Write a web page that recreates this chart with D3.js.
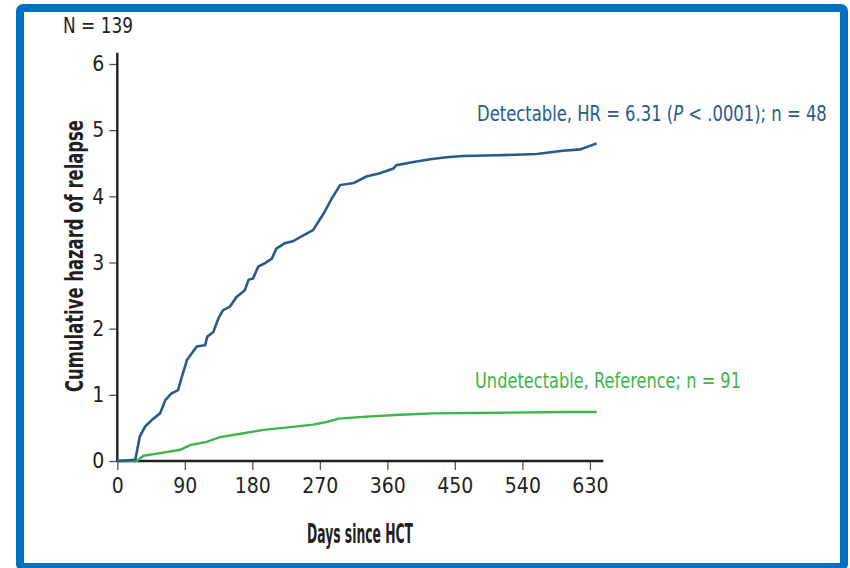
<!DOCTYPE html>
<html>
<head>
<meta charset="utf-8">
<script src="https://cdn.jsdelivr.net/npm/d3@7"></script>
<style>
  body { margin: 0; background: #fff; }
  text { font-family: "DejaVu Sans Condensed", "DejaVu Sans", sans-serif; font-stretch: condensed; }
</style>
</head>
<body>
<script>
const W = 850, H = 568;

// days since HCT / cumulative hazard
const detectDays = [0, 24, 30, 37, 48, 57, 64, 72, 81, 86, 93, 106, 117, 120, 128, 135, 141, 150, 159, 170, 175, 181, 188, 197, 206, 212, 223, 234, 248, 261, 275, 286, 297, 315, 332, 350, 368, 372, 395, 417, 439, 461, 506, 559, 594, 617, 639];
const detectHaz = [0, 0.02, 0.37, 0.52, 0.64, 0.72, 0.92, 1.02, 1.07, 1.27, 1.53, 1.73, 1.75, 1.88, 1.95, 2.16, 2.28, 2.33, 2.48, 2.58, 2.74, 2.76, 2.94, 2.99, 3.06, 3.21, 3.29, 3.32, 3.41, 3.49, 3.74, 3.97, 4.17, 4.20, 4.30, 4.35, 4.42, 4.47, 4.52, 4.56, 4.59, 4.61, 4.62, 4.64, 4.69, 4.71, 4.80];

const undetDays = [0, 26, 35, 57, 84, 97, 119, 137, 168, 195, 221, 261, 279, 295, 332, 377, 421, 510, 599, 639];
const undetHaz = [0, 0, 0.08, 0.12, 0.17, 0.24, 0.29, 0.36, 0.42, 0.47, 0.50, 0.55, 0.59, 0.64, 0.67, 0.70, 0.72, 0.73, 0.74, 0.74];

const xTicks = [0, 90, 180, 270, 360, 450, 540, 630];
const yTicks = [0, 1, 2, 3, 4, 5, 6];

const svg = d3.select('body').append('svg')
    .attr('width', W)
    .attr('height', H);

// blue frame
svg.append('rect')
    .attr('x', 20).attr('y', 8)
    .attr('width', 824).attr('height', 559)
    .attr('rx', 3)
    .attr('fill', 'none')
    .attr('stroke', '#0070c0')
    .attr('stroke-width', 8);

const x = d3.scaleLinear().domain([0, 648]).range([117.3, 603.4]);
const y = d3.scaleLinear().domain([0, 6]).range([461, 64]);

const axisColor = '#231f20';

// x axis
const gx = svg.append('g')
    .attr('transform', `translate(0,${y(0)})`)
    .call(d3.axisBottom(x).tickValues(xTicks).tickSize(9).tickPadding(8));
gx.select('.domain').remove();
gx.selectAll('.tick line').attr('stroke', '#555').attr('stroke-width', 1.3);
gx.selectAll('.tick text')
    .attr('fill', axisColor)
    .style('font-size', '21px');
svg.append('line')
    .attr('x1', x(0)).attr('x2', x(648))
    .attr('y1', y(0)).attr('y2', y(0))
    .attr('stroke', axisColor).attr('stroke-width', 2.6);

// y axis
const gy = svg.append('g')
    .attr('transform', `translate(${x(0)},0)`)
    .call(d3.axisLeft(y).tickValues(yTicks).tickFormat(d3.format('d')).tickSize(8).tickPadding(5));
gy.select('.domain').remove();
gy.selectAll('.tick line').attr('stroke', '#555').attr('stroke-width', 1.3);
gy.selectAll('.tick text')
    .attr('fill', axisColor)
    .style('font-size', '21px');
svg.append('line')
    .attr('x1', x(0)).attr('x2', x(0))
    .attr('y1', y(0) + 1).attr('y2', y(6.17))
    .attr('stroke', axisColor).attr('stroke-width', 2.4);

// axis titles
svg.append('text')
    .attr('x', 360).attr('y', 543)
    .attr('text-anchor', 'middle')
    .attr('fill', axisColor)
    .attr('textLength', 106)
    .attr('lengthAdjust', 'spacingAndGlyphs')
    .style('font-size', '26px')
    .style('font-weight', 'bold')
    .text('Days since HCT');

svg.append('text')
    .attr('transform', 'translate(83,256) rotate(-90)')
    .attr('text-anchor', 'middle')
    .attr('fill', axisColor)
    .attr('textLength', 272)
    .attr('lengthAdjust', 'spacingAndGlyphs')
    .style('font-size', '24px')
    .style('font-weight', 'bold')
    .text('Cumulative hazard of relapse');

svg.append('text')
    .attr('x', 63).attr('y', 33)
    .attr('fill', axisColor)
    .attr('textLength', 70)
    .attr('lengthAdjust', 'spacingAndGlyphs')
    .style('font-size', '21px')
    .text('N = 139');

// curves
const line = d3.line().x(d => x(d[0])).y(d => y(d[1]));

svg.append('path')
    .datum(undetDays.map((d, i) => [d, undetHaz[i]]))
    .attr('d', line)
    .attr('fill', 'none')
    .attr('stroke', '#3db54a')
    .attr('stroke-width', 2.4);

svg.append('path')
    .datum(detectDays.map((d, i) => [d, detectHaz[i]]))
    .attr('d', line)
    .attr('fill', 'none')
    .attr('stroke', '#285a8e')
    .attr('stroke-width', 2.6);

// curve labels (the first one has an italic P, so squeeze the whole group instead of textLength)
const lab1g = svg.append('g');
const lab1 = lab1g.append('text')
    .attr('fill', '#285a8e')
    .style('font-size', '21px');
lab1.append('tspan').text('Detectable, HR = 6.31 (');
lab1.append('tspan').style('font-style', 'italic').text('P');
lab1.append('tspan').text(' < .0001); n = 48');
const lab1w = lab1.node().getComputedTextLength();
lab1g.attr('transform', `translate(477,121) scale(${350 / lab1w},1)`);

svg.append('text')
    .attr('x', 475).attr('y', 388)
    .attr('fill', '#3db54a')
    .attr('textLength', 266)
    .attr('lengthAdjust', 'spacingAndGlyphs')
    .style('font-size', '21px')
    .text('Undetectable, Reference; n = 91');
</script>
</body>
</html>
